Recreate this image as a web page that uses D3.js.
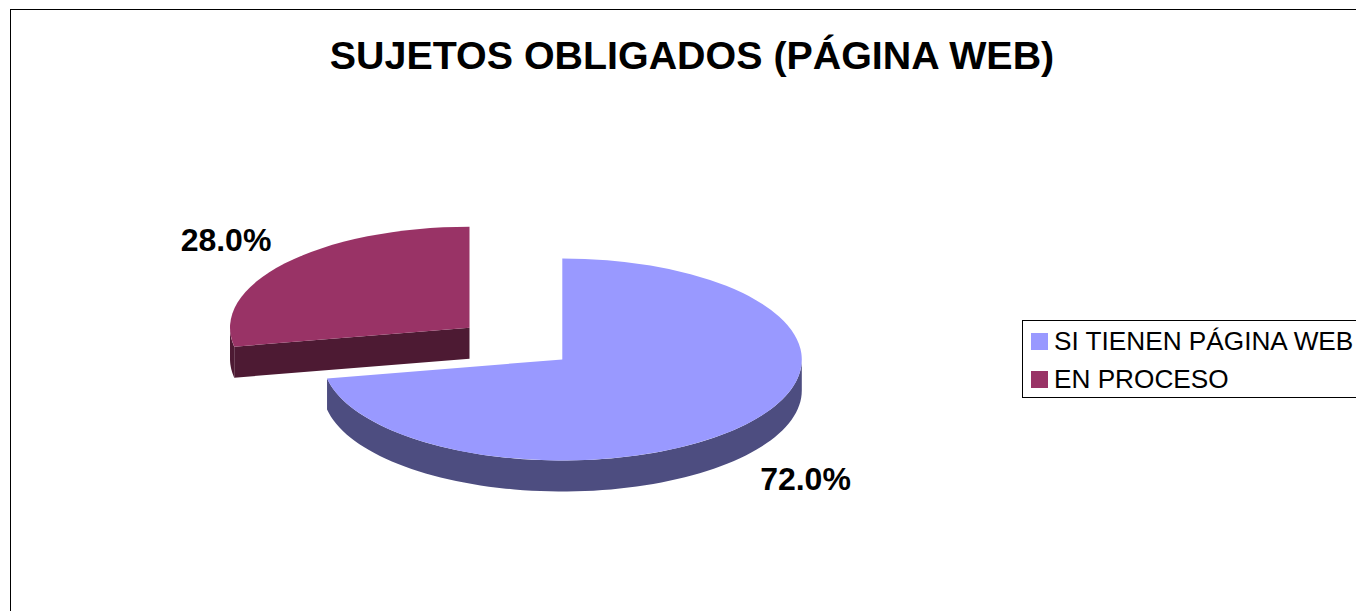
<!DOCTYPE html>
<html>
<head>
<meta charset="utf-8">
<script src="https://cdn.jsdelivr.net/npm/d3@7"></script>
<style>
  html, body { margin: 0; padding: 0; background: #fff; overflow: hidden; }
  text { font-family: "Liberation Sans", Arial, sans-serif; fill: #000; }
</style>
</head>
<body>
<div id="chart"></div>
<script>
// chart data
var categories = ["SI TIENEN PÁGINA WEB", "EN PROCESO"];
var values = [72.0, 28.0];
var title = "SUJETOS OBLIGADOS (PÁGINA WEB)";

var width = 1356, height = 611;
var colors = ["#9999ff", "#993366"];
var sideColors = ["#4d4d80", "#4d1a33"];

// ellipse of the pie top and thickness of the side
var rx = 239.5, ry = 101, depth = 31;
var centers = [{ x: 562.3, y: 359.5 }, { x: 469.5, y: 327.7 }];
var labelPos = [{ x: 805.5, y: 490 }, { x: 226, y: 251 }];

var svg = d3.select("#chart")
    .append("svg")
    .attr("width", width)
    .attr("height", height)
    .style("display", "block");

// outer frame, runs off the bottom and right of the picture
svg.append("rect")
    .attr("x", 10.5)
    .attr("y", 9.5)
    .attr("width", width + 20)
    .attr("height", height + 20)
    .attr("fill", "#fff")
    .attr("stroke", "#000")
    .attr("stroke-width", 1);

svg.append("text")
    .text(title)
    .attr("x", 692)
    .attr("y", 69)
    .attr("text-anchor", "middle")
    .style("font-size", "39.4px")
    .style("font-weight", "bold");

var slices = d3.pie().sort(null)(values);
var arc = d3.arc().innerRadius(0).outerRadius(rx);

function ptX(c, a) { return c.x + rx * Math.sin(a); }
function ptY(c, a) { return c.y - ry * Math.cos(a); }

// the part of the rim that faces the viewer
var rim = function (c, a0, a1) {
    var n = 80;
    var angles = d3.range(n + 1).map(function (i) { return a0 + (a1 - a0) * i / n; });
    return d3.area()
        .x(function (a) { return ptX(c, a); })
        .y0(function (a) { return ptY(c, a); })
        .y1(function (a) { return ptY(c, a) + depth; })(angles);
};

var line = d3.line();

// draw the exploded slice first, the big one sits in front
[1, 0].forEach(function (i) {
    var s = slices[i], c = centers[i];
    var g = svg.append("g");

    // cut face along the start of the slice, visible on the small slice
    if (i == 1) {
        g.append("path")
            .attr("d", line([
                [c.x, c.y],
                [ptX(c, s.startAngle), ptY(c, s.startAngle)],
                [ptX(c, s.startAngle), ptY(c, s.startAngle) + depth],
                [c.x, c.y + depth]
            ]) + "Z")
            .attr("fill", sideColors[i]);
    }

    var a0 = Math.max(s.startAngle, Math.PI / 2);
    var a1 = Math.min(s.endAngle, Math.PI * 1.5);
    g.append("path")
        .attr("d", rim(c, a0, a1))
        .attr("fill", sideColors[i]);

    g.append("path")
        .attr("d", arc(s))
        .attr("transform", "translate(" + c.x + "," + c.y + ") scale(1," + (ry / rx) + ")")
        .attr("fill", colors[i]);

    svg.append("text")
        .text(d3.format(".1f")(values[i]) + "%")
        .attr("x", labelPos[i].x)
        .attr("y", labelPos[i].y)
        .attr("text-anchor", "middle")
        .style("font-size", "32px")
        .style("font-weight", "bold");
});

// legend
var legend = svg.append("g");
legend.append("rect")
    .attr("x", 1022.5)
    .attr("y", 320.5)
    .attr("width", 360)
    .attr("height", 77)
    .attr("fill", "#fff")
    .attr("stroke", "#000")
    .attr("stroke-width", 1);

var legendY = d3.scalePoint().domain(categories).range([341, 379]);

categories.forEach(function (d, i) {
    legend.append("rect")
        .attr("x", 1031)
        .attr("y", legendY(d) - 8)
        .attr("width", 17)
        .attr("height", 17)
        .attr("fill", colors[i]);
    legend.append("text")
        .text(d)
        .attr("x", 1054)
        .attr("y", legendY(d) + 9)
        .style("font-size", "26.2px");
});
</script>
</body>
</html>
